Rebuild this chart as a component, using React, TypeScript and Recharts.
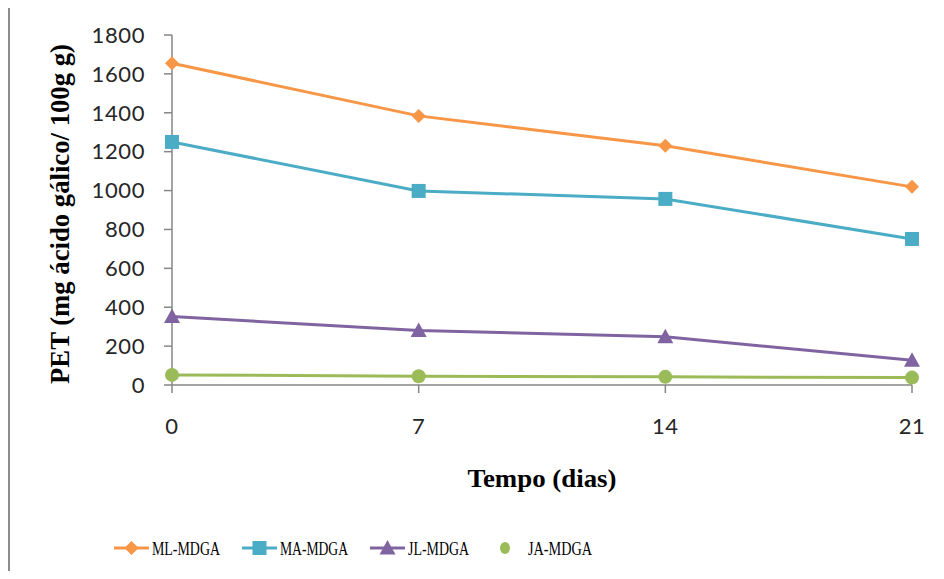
import React from "react";
import { LineChart, Line, XAxis, YAxis, Legend, Label } from "recharts";

const days = [0, 7, 14, 21];
const mlMdga = [1655, 1384, 1230, 1019];
const maMdga = [1250, 998, 957, 751];
const jlMdga = [352, 280, 248, 127];
const jaMdga = [52, 45, 42, 38];
const yTicks = [0, 200, 400, 600, 800, 1000, 1200, 1400, 1600, 1800];
const xTicks = [0, 7, 14, 21];

const seriesNames = ["ML-MDGA", "MA-MDGA", "JL-MDGA", "JA-MDGA"];
const colors = ["#F79646", "#4BACC6", "#8064A2", "#9BBB59"];

const data = days.map((d, i) => ({
  day: d,
  ml: mlMdga[i],
  ma: maMdga[i],
  jl: jlMdga[i],
  ja: jaMdga[i],
}));

const AXIS = "#868686";
const TICK_FONT = { fontFamily: "Lato", fontSize: 22, fill: "#262626", letterSpacing: 0.6 };

function markerShape(kind: string, cx: number, cy: number, color: string, key?: any) {
  if (kind === "diamond") {
    const s = 7;
    return <path key={key} d={`M${cx},${cy - s} L${cx + s},${cy} L${cx},${cy + s} L${cx - s},${cy} Z`} fill={color} />;
  }
  if (kind === "square") {
    const s = 7;
    return <rect key={key} x={cx - s} y={cy - s} width={2 * s} height={2 * s} fill={color} />;
  }
  if (kind === "triangle") {
    const s = 8;
    return <path key={key} d={`M${cx},${cy - s} L${cx + s},${cy + s * 0.8} L${cx - s},${cy + s * 0.8} Z`} fill={color} />;
  }
  return <circle key={key} cx={cx} cy={cy} r={7} fill={color} />;
}

const kinds = ["diamond", "square", "triangle", "circle"];

const makeDot = (idx: number) => (props: any) => {
  const { cx, cy, index } = props;
  return markerShape(kinds[idx], cx, cy, colors[idx], `d${idx}-${index}`);
};

const LegendContent = () => {
  const items = [
    { lineX: 114, textX: 152, showLine: true, len: 68 },
    { lineX: 242, textX: 280, showLine: true, len: 68 },
    { lineX: 370, textX: 408, showLine: true, len: 61 },
    { lineX: 488, textX: 528, showLine: false, len: 64 },
  ];
  const y = 20;
  return (
    <svg width={944} height={40}>
      {items.map((it, i) => (
        <g key={i}>
          {it.showLine && (
            <line x1={it.lineX} x2={it.lineX + 35} y1={y} y2={y} stroke={colors[i]} strokeWidth={3} />
          )}
          {i === 3
            ? <ellipse cx={505} cy={y} rx={5} ry={6} fill={colors[i]} />
            : markerShape(kinds[i], it.lineX + 17.5, y, colors[i])}
          <text
            x={it.textX}
            y={y + 6.5}
            fontFamily="Liberation Serif"
            fontSize={18}
            fill="#000"
            textLength={it.len}
            lengthAdjust="spacingAndGlyphs"
          >
            {seriesNames[i]}
          </text>
        </g>
      ))}
    </svg>
  );
};

export default function App() {
  return (
    <div style={{ position: "relative", width: 944, height: 579, margin: -8, background: "#fff" }}>
      <div
        style={{
          position: "absolute",
          left: 8,
          top: 5,
          width: 936,
          height: 574,
          borderLeft: "2px solid #8c8c8c",
          borderTop: "2px solid #8c8c8c",
          boxSizing: "border-box",
        }}
      />
      <div style={{ position: "absolute", left: 0, top: 0 }}>
        <LineChart width={944} height={579} data={data} margin={{ top: 35, right: 32, bottom: 0, left: 0 }}>
          <XAxis
            dataKey="day"
            type="number"
            domain={[0, 21]}
            ticks={xTicks}
            height={194}
            stroke={AXIS}
            tickSize={8}
            tickMargin={25}
            tick={TICK_FONT}
            axisLine={{ stroke: AXIS, strokeWidth: 1.5 }}
            tickLine={{ stroke: AXIS, strokeWidth: 1.5 }}
          >
            <Label
              content={(p: any) => {
                const vb = p.viewBox;
                return (
                  <text
                    x={vb.x + vb.width / 2}
                    y={vb.y + 102}
                    textAnchor="middle"
                    fontFamily="Liberation Serif"
                    fontWeight="bold"
                    fontSize={26}
                    fill="#000"
                    textLength={149}
                    lengthAdjust="spacingAndGlyphs"
                  >
                    Tempo (dias)
                  </text>
                );
              }}
            />
          </XAxis>
          <YAxis
            type="number"
            domain={[0, 1800]}
            ticks={yTicks}
            width={172}
            stroke={AXIS}
            tickSize={8}
            tickMargin={19}
            tick={TICK_FONT}
            axisLine={{ stroke: AXIS, strokeWidth: 1.5 }}
            tickLine={{ stroke: AXIS, strokeWidth: 1.5 }}
            interval={0}
          >
            <Label
              content={(p: any) => {
                const vb = p.viewBox;
                const cx = vb.x + 60;
                const cy = vb.y + vb.height / 2 + 4;
                return (
                  <text
                    x={cx}
                    y={cy}
                    transform={`rotate(-90, ${cx}, ${cy})`}
                    textAnchor="middle"
                    dominantBaseline="central"
                    fontFamily="Liberation Serif"
                    fontWeight="bold"
                    fontSize={27}
                    fill="#000"
                    textLength={340}
                    lengthAdjust="spacingAndGlyphs"
                  >
                    PET (mg ácido gálico/ 100g g)
                  </text>
                );
              }}
            />
          </YAxis>
          <Legend
            layout="horizontal"
            verticalAlign="middle"
            align="center"
            content={<LegendContent />}
            wrapperStyle={{ top: 528, left: 0, width: 944, height: 40 }}
          />
          <Line dataKey="ml" name={seriesNames[0]} stroke={colors[0]} strokeWidth={3} dot={makeDot(0)} isAnimationActive={false} />
          <Line dataKey="ma" name={seriesNames[1]} stroke={colors[1]} strokeWidth={3} dot={makeDot(1)} isAnimationActive={false} />
          <Line dataKey="jl" name={seriesNames[2]} stroke={colors[2]} strokeWidth={3} dot={makeDot(2)} isAnimationActive={false} />
          <Line dataKey="ja" name={seriesNames[3]} stroke={colors[3]} strokeWidth={3} dot={makeDot(3)} isAnimationActive={false} />
        </LineChart>
      </div>
    </div>
  );
}
